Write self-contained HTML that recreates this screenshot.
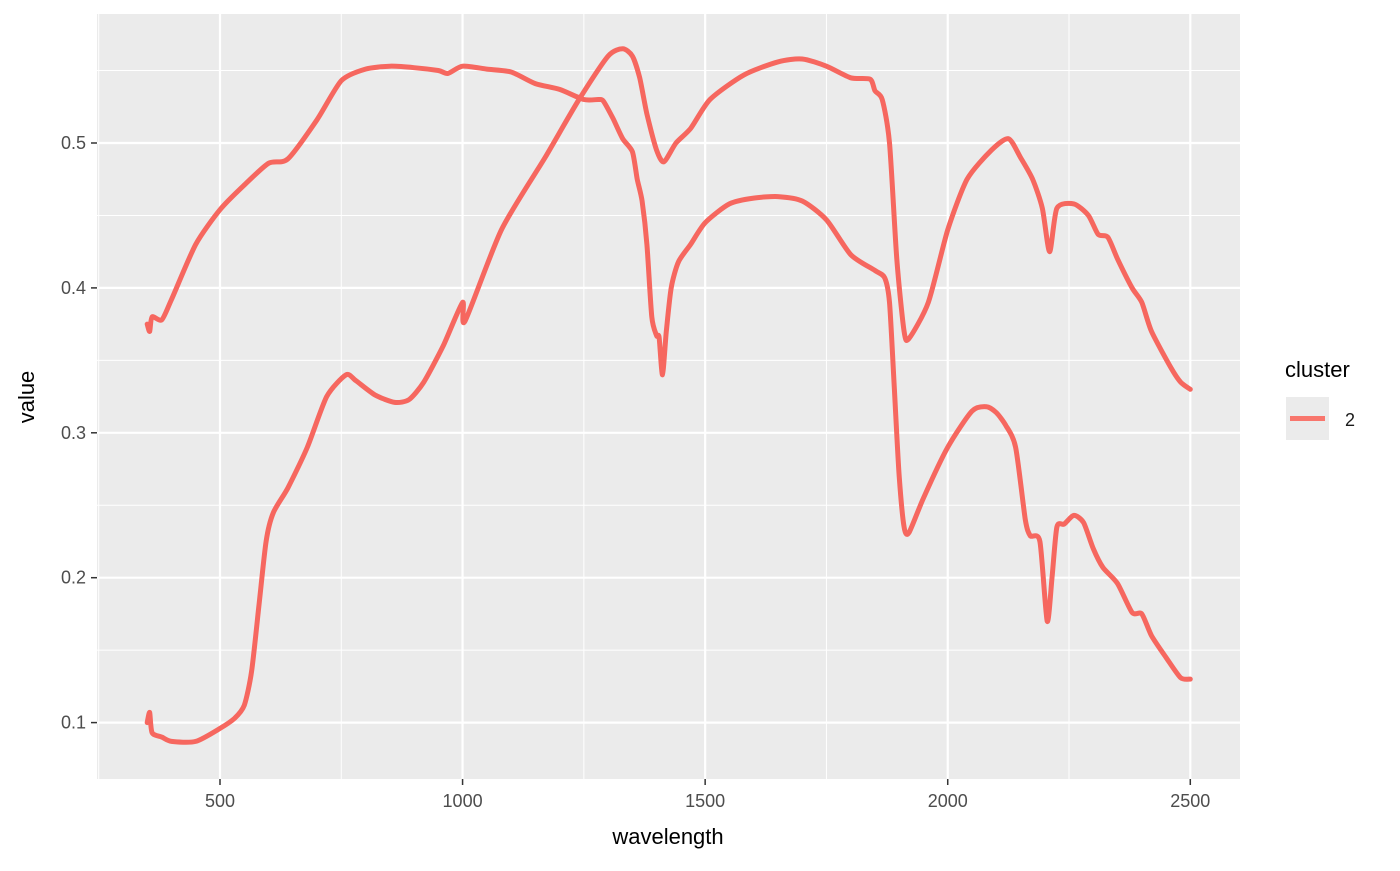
<!DOCTYPE html>
<html><head><meta charset="utf-8"><style>
body{margin:0;background:#fff;font-family:"Liberation Sans",sans-serif}
</style></head><body>
<svg id="chart" width="1400" height="866" xmlns="http://www.w3.org/2000/svg" font-family="Liberation Sans, sans-serif">
<rect x="97" y="14" width="1143" height="765" fill="#EBEBEB"/>
<g id="grid"></g><g id="lines"></g><g id="ticks"></g>
<text x="668" y="844" font-size="22" text-anchor="middle" fill="#000">wavelength</text>
<text transform="translate(34,397) rotate(-90)" font-size="22" text-anchor="middle" fill="#000">value</text>
<g>
<text x="1285" y="377" font-size="22" fill="#000">cluster</text>
<rect x="1286" y="397" width="43" height="43" fill="#EBEBEB"/>
<line x1="1290" y1="418.5" x2="1325" y2="418.5" stroke="#F8766D" stroke-width="5"/>
<text x="1345" y="426" font-size="18" fill="#1a1a1a">2</text>
</g>
</svg>
<script>
const xTicks=[500,1000,1500,2000,2500];
const xMinor=[250,750,1250,1750,2250];
const yTicks=[0.1,0.2,0.3,0.4,0.5];
const yMinor=[0.15,0.25,0.35,0.45,0.55];
const seriesAWl=[350,355,360,380,400,450,500,550,600,640,700,750,800,850,900,950,970,1000,1050,1100,1150,1200,1250,1280,1290,1310,1330,1350,1360,1370,1380,1390,1400,1405,1412,1420,1430,1445,1470,1500,1550,1600,1650,1700,1750,1800,1850,1870,1880,1890,1900,1910,1920,1950,2000,2050,2080,2100,2120,2140,2160,2170,2190,2205,2215,2225,2240,2260,2280,2300,2320,2350,2380,2400,2420,2450,2480,2500];
const seriesAVal=[0.375,0.37,0.38,0.378,0.392,0.43,0.454,0.471,0.486,0.489,0.516,0.543,0.551,0.553,0.552,0.55,0.548,0.553,0.551,0.549,0.541,0.537,0.53,0.53,0.529,0.517,0.503,0.494,0.475,0.46,0.43,0.38,0.367,0.366,0.34,0.37,0.4,0.418,0.43,0.445,0.458,0.462,0.463,0.46,0.447,0.423,0.412,0.407,0.39,0.33,0.27,0.235,0.231,0.255,0.29,0.315,0.318,0.314,0.305,0.29,0.24,0.229,0.225,0.17,0.2,0.235,0.237,0.243,0.238,0.22,0.207,0.196,0.176,0.175,0.16,0.145,0.131,0.13];
const seriesBWl=[350,355,360,380,400,450,500,530,550,565,580,595,610,640,680,720,760,780,820,860,890,920,960,1000,1005,1080,1170,1240,1300,1330,1350,1365,1380,1400,1415,1440,1470,1510,1580,1650,1700,1750,1800,1840,1850,1865,1880,1895,1910,1920,1960,2000,2040,2090,2125,2150,2175,2195,2210,2225,2260,2290,2310,2330,2350,2380,2400,2420,2460,2480,2500];
const seriesBVal=[0.1,0.107,0.093,0.09,0.087,0.087,0.096,0.103,0.112,0.135,0.18,0.225,0.245,0.262,0.29,0.325,0.34,0.336,0.326,0.321,0.323,0.335,0.36,0.39,0.377,0.44,0.49,0.53,0.56,0.565,0.56,0.545,0.52,0.495,0.487,0.5,0.51,0.53,0.547,0.556,0.558,0.553,0.545,0.544,0.536,0.53,0.5,0.42,0.37,0.365,0.39,0.44,0.475,0.495,0.503,0.49,0.475,0.455,0.425,0.455,0.458,0.45,0.437,0.435,0.42,0.4,0.39,0.37,0.345,0.335,0.33];
const X=v=>220+(v-500)*0.48515, Y=v=>143+(0.5-v)*1449;
const NS="http://www.w3.org/2000/svg";
function mk(t,a,p){const e=document.createElementNS(NS,t);for(const k in a)e.setAttribute(k,a[k]);p.appendChild(e);return e;}
const g=document.getElementById('grid'),tk=document.getElementById('ticks'),ln=document.getElementById('lines');
xMinor.forEach(v=>{const e=mk('line',{x1:X(v),x2:X(v),y1:14,y2:779,stroke:'#fff','stroke-width':1},g);

});
yMinor.forEach(v=>{const e=mk('line',{x1:97,x2:1240,y1:Y(v),y2:Y(v),stroke:'#fff','stroke-width':1},g);

});
xTicks.forEach(v=>{const e=mk('line',{x1:X(v),x2:X(v),y1:14,y2:779,stroke:'#fff','stroke-width':2.2},g);


const t=mk('line',{x1:X(v),x2:X(v),y1:779,y2:785,stroke:'#333','stroke-width':1.5},tk);


const l=mk('text',{x:X(v),y:807,'font-size':18,'text-anchor':'middle',fill:'#4d4d4d'},tk);l.textContent=v;

});
yTicks.forEach(v=>{const e=mk('line',{x1:97,x2:1240,y1:Y(v),y2:Y(v),stroke:'#fff','stroke-width':2.2},g);


const t=mk('line',{x1:91,x2:97,y1:Y(v),y2:Y(v),stroke:'#333','stroke-width':1.5},tk);


const l=mk('text',{x:86,y:Y(v)+6,'font-size':18,'text-anchor':'end',fill:'#4d4d4d'},tk);l.textContent=v.toFixed(1);

});
function smooth(pts){let d='M'+pts[0][0].toFixed(1)+','+pts[0][1].toFixed(1);
for(let i=0;i<pts.length-1;i++){const p0=pts[i-1]||pts[i],p1=pts[i],p2=pts[i+1],p3=pts[i+2]||p2;const k=0.12;
const c1=[p1[0]+(p2[0]-p0[0])*k,p1[1]+(p2[1]-p0[1])*k],c2=[p2[0]-(p3[0]-p1[0])*k,p2[1]-(p3[1]-p1[1])*k];
d+='C'+c1.map(n=>n.toFixed(1))+' '+c2.map(n=>n.toFixed(1))+' '+p2[0].toFixed(1)+','+p2[1].toFixed(1);}return d;}
[[seriesAWl,seriesAVal,'spectrum-line-a'],[seriesBWl,seriesBVal,'spectrum-line-b']].forEach(([w,v,n])=>{
const d=smooth(w.map((x,i)=>[X(x),Y(v[i])]));
const p=mk('path',{d:d,fill:'none',stroke:'#F6675F','stroke-width':5,'stroke-linejoin':'round','stroke-linecap':'round'},ln);

});
</script>
</body></html>
